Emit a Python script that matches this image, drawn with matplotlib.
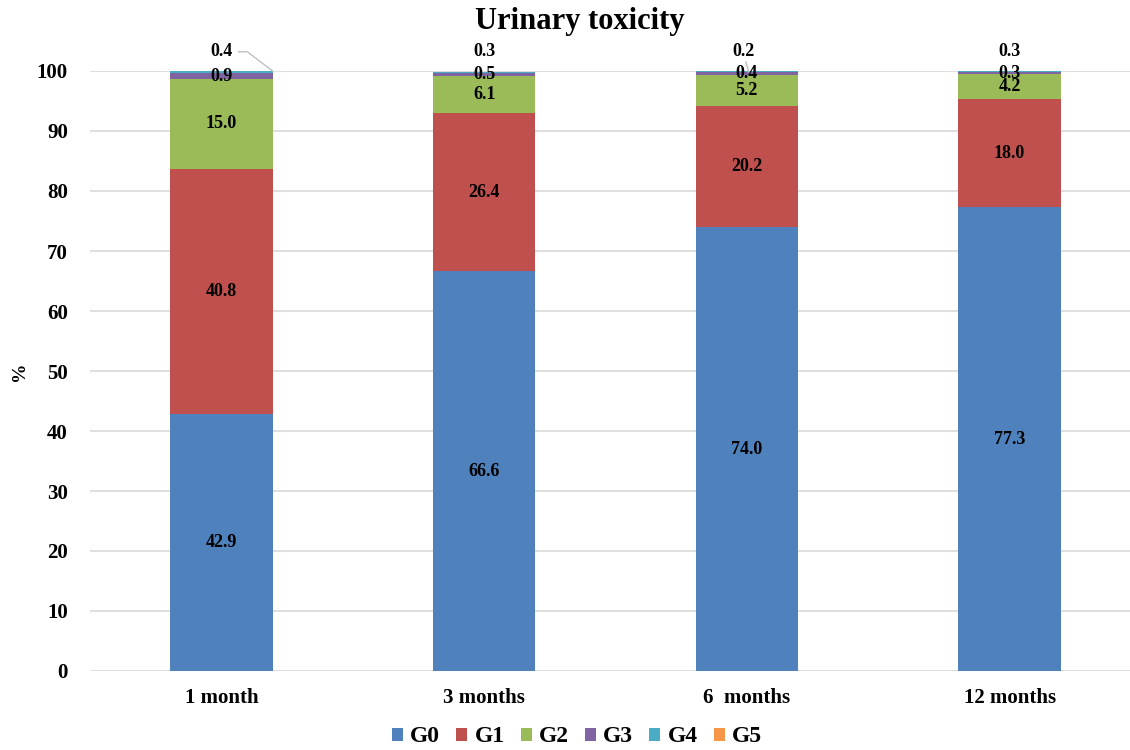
import numpy as np
import matplotlib.pyplot as plt

# Urinary toxicity grades (%) at each follow-up time point
timepoints = ["1 month", "3 months", "6  months", "12 months"]
grades = ["G0", "G1", "G2", "G3", "G4", "G5"]
g0 = [42.9, 66.6, 74.0, 77.3]
g1 = [40.8, 26.4, 20.2, 18.0]
g2 = [15.0, 6.1, 5.2, 4.2]
g3 = [0.9, 0.5, 0.4, 0.3]
g4 = [0.4, 0.3, 0.2, 0.3]
g5 = [0.0, 0.0, 0.0, 0.0]

colors = ["#4F81BD", "#C0504D", "#9BBB59", "#8064A2", "#4BACC6", "#F79646"]
series = [g0, g1, g2, g3, g4, g5]

plt.rcParams["font.family"] = ["Liberation Serif", "DejaVu Serif"]
plt.rcParams["font.weight"] = "bold"

fig = plt.figure(figsize=(11.3, 7.5), dpi=100)
ax = fig.add_axes([90 / 1130, 1 - 671 / 750, 1051 / 1130, 600 / 750])

x = np.arange(len(timepoints))
width = 0.39
lbl_size = 13
bottom = np.zeros(len(timepoints))
for name, vals, col in zip(grades, series, colors):
    vals = np.array(vals)
    ax.bar(x, vals, width, bottom=bottom, color=col, label=name, zorder=3)
    for i, v in enumerate(vals):
        if v <= 0:
            continue
        if name == "G4":
            # thin top segment: label sits above the bar
            tx = x[i] - (0.011 if i == 2 else 0)
            ax.text(tx, 103.3, f"{v:.1f}", ha="center", va="center",
                    fontsize=lbl_size, fontweight="bold", clip_on=False)
            if i == 0:
                ax.plot([x[i] + 0.065, x[i] + 0.099, x[i] + width / 2],
                        [103.2, 103.2, 100], color="#BFBFBF", lw=1,
                        clip_on=False, zorder=4)
            elif i == 2:
                ax.plot([x[i] - 0.004, x[i] + 0.008], [101.5, 99.8],
                        color="#BFBFBF", lw=1, clip_on=False, zorder=4)
        else:
            ax.text(x[i], bottom[i] + v / 2, f"{v:.1f}", ha="center",
                    va="center", fontsize=lbl_size, fontweight="bold", zorder=5)
    bottom += vals

ax.set_xlim(-0.5, len(timepoints) - 0.5)
ax.set_ylim(0, 100)
ax.set_yticks(range(0, 101, 10))
ax.set_xticks(x)
ax.set_xticklabels(timepoints)
ax.tick_params(axis="both", length=0, labelsize=15)
ax.tick_params(axis="x", pad=12)
ax.tick_params(axis="y", pad=16)
ax.grid(axis="y", color="#D9D9D9", lw=1.2, zorder=0)
for s in ax.spines.values():
    s.set_visible(False)

fig.text(20 / 1130, 1 - 371 / 750, "%", rotation=90, ha="center", va="center",
         fontsize=14, fontweight="bold")
fig.text(580 / 1130, 1 - 21 / 750, "Urinary toxicity", ha="center",
         va="center", fontsize=22, fontweight="bold")

fig.legend(loc="center", bbox_to_anchor=(577 / 1130, 1 - 737 / 750), ncol=6,
           frameon=False, fontsize=17, handlelength=0.47, handleheight=0.47,
           handletextpad=0.3, columnspacing=0.68, borderaxespad=0)

fig.savefig("out.png", dpi=100)
